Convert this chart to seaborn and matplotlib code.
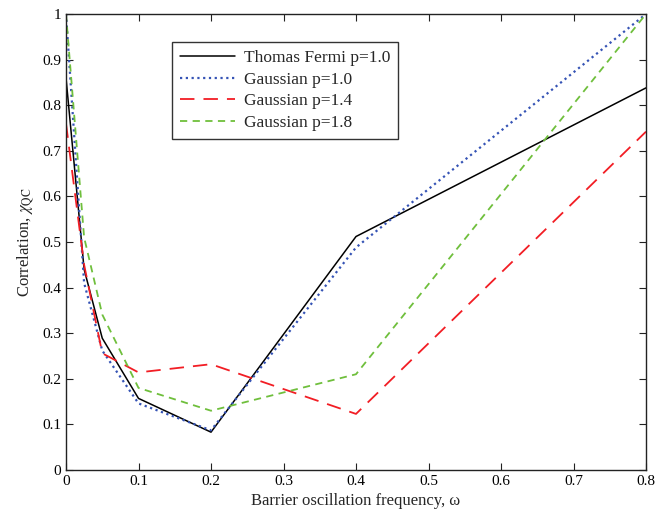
import matplotlib
matplotlib.use("Agg")
import matplotlib.pyplot as plt
import seaborn as sns
import pandas as pd

omega = [0.0, 0.025, 0.05, 0.1, 0.2, 0.4, 0.8]
tf_p10 = [0.86, 0.44, 0.289, 0.157, 0.083, 0.512, 0.838]
g_p10 = [1.0, 0.41, 0.262, 0.146, 0.087, 0.488, 1.0]
g_p14 = [0.76, 0.45, 0.256, 0.214, 0.232, 0.123, 0.742]
g_p18 = [1.0, 0.51, 0.341, 0.180, 0.130, 0.210, 1.0]
labels = ["Thomas Fermi p=1.0", "Gaussian p=1.0", "Gaussian p=1.4", "Gaussian p=1.8"]

sns.set_style("ticks")
plt.rcParams["font.family"] = ["Liberation Serif", "DejaVu Serif"]
plt.rcParams["mathtext.fontset"] = "stix"

fig = plt.figure(figsize=(6.57, 5.21), dpi=100)
ax = fig.add_axes([66/657, 1-470/521, (646-66)/657, (470-14)/521])

styles = [
    dict(color="black", linestyle="-", linewidth=1.1),
    dict(color="#3553b5", linestyle=(0, (1, 1.6)), linewidth=1.6),
    dict(color="#f21d24", linestyle=(0, (8, 5)), linewidth=1.3),
    dict(color="#6fbf3c", linestyle=(0, (4, 3)), linewidth=1.3),
]
for ys, lab, st in zip([tf_p10, g_p10, g_p14, g_p18], labels, styles):
    df = pd.DataFrame({"omega": omega, "chi": ys})
    sns.lineplot(data=df, x="omega", y="chi", ax=ax, label=lab, **st)

ax.set_xlim(0, 0.8)
ax.set_ylim(0, 1)
ax.set_xticks([0, 0.1, 0.2, 0.3, 0.4, 0.5, 0.6, 0.7, 0.8])
ax.set_xticklabels(["0", "0.1", "0.2", "0.3", "0.4", "0.5", "0.6", "0.7", "0.8"])
ax.set_yticks([i/10 for i in range(11)])
ax.set_yticklabels(["0"] + [f"{i/10:.1f}" for i in range(1, 10)] + ["1"])
ax.tick_params(direction="in", top=True, right=True, labelsize=11, length=5, width=0.8, colors="#222222", labelcolor="black")
for s in ax.spines.values():
    s.set_linewidth(1.0)
    s.set_color("#222222")
ax.set_xlabel("Barrier oscillation frequency, ω", fontsize=12)
ax.set_ylabel(r"Correlation, $\chi_{\rm QC}$", fontsize=12)

leg = ax.legend(loc="upper left", bbox_to_anchor=((172-66)/580, 1-(42-14)/456),
                borderaxespad=0, fontsize=12.5, frameon=True, fancybox=False, edgecolor="black",
                handlelength=3.2, borderpad=0.45, labelspacing=0.32, handletextpad=0.5)
leg.get_frame().set_linewidth(1.0)

fig.savefig("out.png", dpi=100)
